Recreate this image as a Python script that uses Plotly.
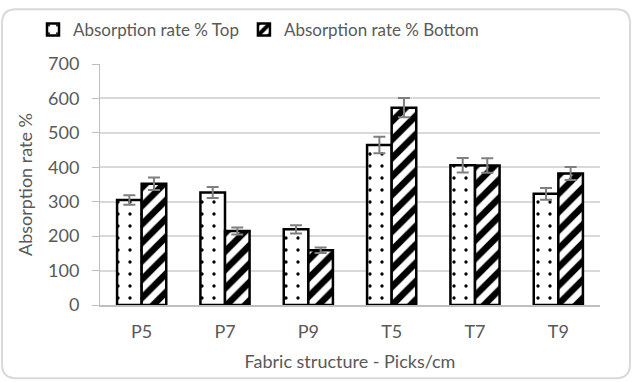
import plotly.graph_objects as go

categories = ["P5", "P7", "P9", "T5", "T7", "T9"]
top_values = [305, 327, 220, 465, 406, 323]
top_err = [14, 16, 12, 24, 21, 17]
bottom_values = [352, 215, 159, 573, 405, 382]
bottom_err = [18, 10, 8, 28, 21, 19]
y_ticks = [0, 100, 200, 300, 400, 500, 600, 700]

FONT = "Lato"
GRAY = "#595959"

fig = go.Figure()
fig.add_trace(go.Bar(
    name="Absorption rate % Top", x=categories, y=top_values,
    marker=dict(color="white", line=dict(color="black", width=2.5),
                pattern=dict(shape=".", fgcolor="black", bgcolor="white", size=12,
                             solidity=0.06, fgopacity=1)),
    error_y=dict(type="data", array=top_err, color="#7f7f7f", thickness=2, width=6),
))
fig.add_trace(go.Bar(
    name="Absorption rate % Bottom", x=categories, y=bottom_values,
    marker=dict(color="white", line=dict(color="black", width=2.5),
                pattern=dict(shape="/", fgcolor="black", bgcolor="white", size=13,
                             solidity=0.5, fgopacity=1)),
    error_y=dict(type="data", array=bottom_err, color="#7f7f7f", thickness=2, width=6),
))

L, R, T, B = 100, 32, 58, 77
W, H = 632, 382
pw, ph = W - L - R, H - T - B

def px(x):
    return (x - L) / pw

def py(y):
    return (H - B - y) / ph

x0, x1, y0, y1 = px(2), px(630), py(2), py(380)
rx, ry = 14 / pw, 14 / ph
path = (f"M {x0+rx},{y0} L {x1-rx},{y0} Q {x1},{y0} {x1},{y0-ry} "
        f"L {x1},{y1+ry} Q {x1},{y1} {x1-rx},{y1} L {x0+rx},{y1} "
        f"Q {x0},{y1} {x0},{y1+ry} L {x0},{y0-ry} Q {x0},{y0} {x0+rx},{y0} Z")
fig.add_shape(type="path", path=path, xref="paper", yref="paper",
              line=dict(color="#d9d9d9", width=2), layer="below")

fig.update_layout(
    width=W, height=H,
    margin=dict(l=L, r=R, t=T, b=B),
    paper_bgcolor="white", plot_bgcolor="white",
    barmode="group", bargap=0.41, bargroupgap=0,
    font=dict(family=FONT, size=18, color=GRAY),
    legend=dict(orientation="h", x=px(33), xanchor="left", y=py(23), yanchor="middle",
                font=dict(size=17, color=GRAY), itemwidth=30,
                bgcolor="rgba(0,0,0,0)"),
    showlegend=True,
)
fig.update_yaxes(range=[0, 700], tickvals=y_ticks, showgrid=True, gridcolor="#d9d9d9", gridwidth=1.5,
                 showline=True, linecolor="#bfbfbf", linewidth=1, ticks="outside", ticklen=7,
                 tickcolor="#bfbfbf", ticklabelstandoff=9,
                 title=dict(text="Absorption rate %", font=dict(size=18, color=GRAY), standoff=10),
                 zeroline=False)
fig.update_xaxes(showline=True, linecolor="#bfbfbf", linewidth=1.5, ticks="", ticklabelstandoff=10,
                 title=dict(text="Fabric structure - Picks/cm", font=dict(size=18, color=GRAY), standoff=14))

fig.write_html("out.html")
